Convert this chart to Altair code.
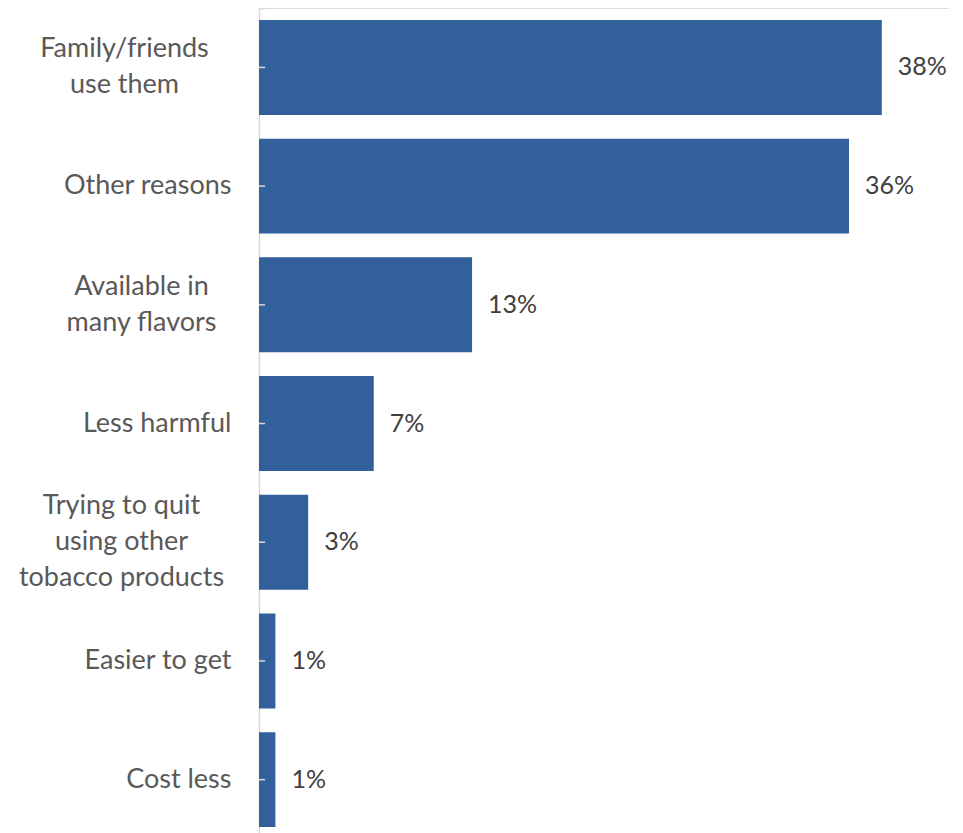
import altair as alt
import pandas as pd

categories = [
    "Family/friends|use them",
    "Other reasons",
    "Available in|many flavors",
    "Less harmful",
    "Trying to quit|using other|tobacco products",
    "Easier to get",
    "Cost less",
]
values = [38, 36, 13, 7, 3, 1, 1]
value_labels = ["38%", "36%", "13%", "7%", "3%", "1%", "1%"]

df = pd.DataFrame({"cat": categories, "val": values, "lbl": value_labels})

FONT = "Lato"
BAR = "#31609A"
GRID = "#D9D9D9"

yscale = alt.Scale(paddingInner=0.2, paddingOuter=0.075, align=0.67)
yenc = alt.Y(
    "cat:N",
    sort=categories,
    scale=yscale,
    axis=alt.Axis(
        title=None,
        labelExpr="split(datum.label, '|')",
        ticks=False,
        domainColor=GRID,
        domainWidth=1.5,
        labelFont=FONT,
        labelFontSize=27,
        labelColor="#595959",
        labelLineHeight=36,
        labelBaseline="middle",
        labelLimit=260,
        labelAlign={
            "condition": {"test": "indexof(datum.value, '|') >= 0", "value": "center"},
            "value": "right",
        },
        labelPadding={
            "condition": [
                {"test": "datum.value == 'Family/friends|use them'", "value": 135},
                {"test": "datum.value == 'Available in|many flavors'", "value": 118},
                {"test": "datum.value == 'Trying to quit|using other|tobacco products'", "value": 138},
            ],
            "value": 28,
        },
        labelOffset={
            "condition": [
                {"test": "length(split(datum.value, '|')) == 2", "value": -18},
                {"test": "length(split(datum.value, '|')) == 3", "value": -36},
            ],
            "value": 0,
        },
    ),
)

base = alt.Chart(df)

bars = base.mark_bar(color=BAR).encode(
    y=yenc,
    x=alt.X("val:Q", scale=alt.Scale(domain=[0, 42.1], nice=False, zero=True), axis=None),
)

texts = base.mark_text(
    align="left", baseline="middle", dx=16, font=FONT, fontSize=25, color="#404040"
).encode(
    y=alt.Y("cat:N", sort=categories),
    x=alt.X("val:Q", axis=None),
    text="lbl:N",
)

ticks = base.mark_rule(color=GRID, strokeWidth=1.5).encode(
    y=alt.Y("cat:N", sort=categories),
    x=alt.value(0),
    x2=alt.value(6),
)

top_tick = alt.Chart(pd.DataFrame({"a": [0]})).mark_rect(color=GRID).encode(
    x=alt.value(0),
    x2=alt.value(6),
    y=alt.value(0),
    y2=alt.value(1.5),
)

chart = (
    alt.layer(bars, ticks, top_tick, texts)
    .properties(
        width=690,
        height=825,
        autosize=alt.AutoSizeParams(type="none"),
        padding={"left": 251, "top": 0, "right": 0, "bottom": 0},
    )
    .configure_view(stroke=None)
    .configure(background="white")
)

chart.save("out.html", embed_options={"renderer": "svg", "actions": False})
